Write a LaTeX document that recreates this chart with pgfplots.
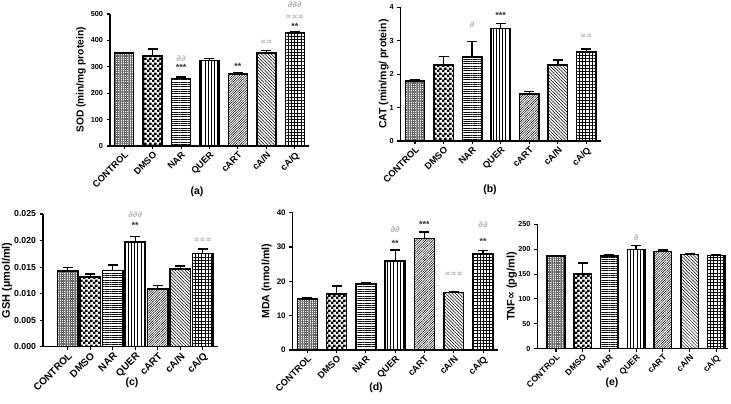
\documentclass[border=0pt]{standalone}
\usepackage{fontspec}
\setmainfont{Liberation Sans}
\newfontfamily\symfont{DejaVu Sans}
\usepackage{pgfplots}
\pgfplotsset{compat=1.18}
\usetikzlibrary{patterns,patterns.meta}

\pgfdeclarepatternformonly{mychecker}{\pgfqpoint{0pt}{0pt}}{\pgfqpoint{4.6pt}{4.6pt}}{\pgfqpoint{4.6pt}{4.6pt}}{%
 \pgfpathrectangle{\pgfqpoint{0pt}{0pt}}{\pgfqpoint{2.5pt}{2.5pt}}%
 \pgfpathrectangle{\pgfqpoint{2.3pt}{2.3pt}}{\pgfqpoint{2.5pt}{2.5pt}}%
 \pgfusepath{fill}}

\newcommand\fs[1]{\fontsize{#1}{#1}\selectfont\bfseries}

\pgfplotsset{
 pC/.style={pattern={Hatch[angle=0,distance=1.8pt,line width=0.45pt]}, pattern color=black!60},
 pD/.style={pattern=mychecker},
 pN/.style={pattern={Lines[angle=0,distance=2.3pt,line width=0.55pt]}},
 pQ/.style={pattern={Lines[angle=90,distance=3.2pt,line width=0.5pt]}},
 pA/.style={pattern={Lines[angle=45,distance=1.7pt,line width=0.45pt]}},
 pAN/.style={pattern={Lines[angle=-45,distance=2.3pt,line width=0.5pt]}},
 pAQ/.style={pattern={Hatch[angle=0,distance=3.2pt,line width=0.5pt]}},
 common/.style={
  scale only axis, anchor=south west, ybar, clip=false,
  axis x line=bottom, axis y line=left, axis line style={-, line width=1.3pt},
  tick align=outside, major tick length=3.5pt, tick style={line width=1.1pt, black},
  xtick={0,...,6}, xticklabels={CONTROL,DMSO,NAR,QUER,cART,cA/N,cA/Q},
  xticklabel style={rotate=45, anchor=north east, inner sep=1pt},
  /pgf/number format/assume math mode=true,
  scaled y ticks=false,
  enlargelimits=false,
 },
 fonts/.style n args={4}{
  xticklabel style={font=\fs{#1}},
  yticklabel style={font=\fs{#2}},
  ylabel style={font=\fs{#3}, at={(axis description cs:#4,0.5)}, anchor=center},
 },
}

\newcommand\onebar[4]{\addplot[#1, draw=black, line width=1.5pt, bar shift=0pt,
  error bars/.cd, y dir=plus, y explicit,
  error bar style={line width=1.4pt, solid},
  error mark options={rotate=90, line width=1.4pt, mark size=5pt}]
  coordinates {(#2,#3) +- (0,#4)};}
\newcommand\ann[3]{\node[font=\fs{9}, inner sep=0pt, text=black!80] at (axis cs:#1,#2) {#3};}
\newcommand\dd[1]{{\color{gray!60}\fontsize{8.5}{9}\selectfont\symfont\itshape #1}}

\begin{document}
\begin{tikzpicture}
\useasboundingbox (0,0) rectangle (731pt,404pt);

% (a) SOD
\begin{axis}[common, fonts={9.3}{7.3}{10.2}{-0.146}, at={(110pt,258pt)}, width=199pt, height=132pt,
  xmin=-0.5, xmax=6.5, ymin=0, ymax=500, ytick={0,100,200,300,400,500},
  bar width=0.67, ylabel={SOD (min/mg protein)}]
\onebar{pC}{0}{352}{3}
\onebar{pD}{1}{340}{27}
\onebar{pN}{2}{256}{5}
\onebar{pQ}{3}{323}{8}
\onebar{pA}{4}{272}{6}
\onebar{pAN}{5}{352}{9}
\onebar{pAQ}{6}{430}{3}
\ann{2}{332}{\dd{∂∂}}
\ann{2}{296}{***}
\ann{4}{303}{**}
\ann{5}{391}{\dd{∝∝}}
\ann{6}{534}{\dd{∂∂∂}}
\ann{6}{487}{\dd{∝∝∝}}
\ann{6}{454}{**}
\end{axis}

% (b) CAT
\begin{axis}[common, fonts={9.3}{7.3}{10.5}{-0.085}, at={(400.7pt,263pt)}, width=200pt, height=133.7pt,
  xmin=-0.5, xmax=6.5, ymin=0, ymax=4, ytick={0,1,2,3,4},
  bar width=0.68, ylabel={CAT (min/mg/ protein)}]
\onebar{pC}{0}{1.80}{0.03}
\onebar{pD}{1}{2.27}{0.25}
\onebar{pN}{2}{2.51}{0.47}
\onebar{pQ}{3}{3.37}{0.15}
\onebar{pA}{4}{1.40}{0.08}
\onebar{pAN}{5}{2.28}{0.14}
\onebar{pAQ}{6}{2.67}{0.08}
\ann{2}{3.47}{\dd{∂}}
\ann{3}{3.76}{***}
\ann{6}{3.14}{\dd{∝∝}}
\end{axis}

% (c) GSH
\begin{axis}[common, fonts={10}{8.7}{11}{-0.205}, at={(43pt,57.3pt)}, width=175.5pt, height=132.7pt,
  xmin=-1.1, xmax=6.7, ymin=0, ymax=0.025, ytick={0,0.005,0.010,0.015,0.020,0.025},
  yticklabel style={/pgf/number format/.cd, fixed, fixed zerofill, precision=3},
  bar width=0.93, ylabel={GSH (µmol/ml)}]
\onebar{pC}{0}{0.0143}{0.0006}
\onebar{pD}{1}{0.0131}{0.0006}
\onebar{pN}{2}{0.0144}{0.0010}
\onebar{pQ}{3}{0.0197}{0.0011}
\onebar{pA}{4}{0.0109}{0.0006}
\onebar{pAN}{5}{0.0146}{0.0006}
\onebar{pAQ}{6}{0.0176}{0.0008}
\ann{3}{0.0248}{\dd{∂∂∂}}
\ann{3}{0.0228}{**}
\ann{6}{0.0201}{\dd{∝∝∝}}
\end{axis}

% (d) MDA
\begin{axis}[common, fonts={9.3}{8}{10.6}{-0.127}, at={(292.7pt,54pt)}, width=205pt, height=137.3pt,
  xmin=-0.5, xmax=6.5, ymin=0, ymax=40, ytick={0,10,20,30,40},
  bar width=0.68, ylabel={MDA (nmol/ml)}]
\onebar{pC}{0}{14.9}{0.2}
\onebar{pD}{1}{16.3}{2.3}
\onebar{pN}{2}{19.2}{0.5}
\onebar{pQ}{3}{25.9}{3.2}
\onebar{pA}{4}{32.5}{1.9}
\onebar{pAN}{5}{16.7}{0.4}
\onebar{pAQ}{6}{27.9}{1.1}
\ann{3}{35.0}{\dd{∂∂}}
\ann{3}{31.2}{**}
\ann{4}{36.5}{***}
\ann{5}{21.9}{\dd{∝∝∝}}
\ann{6}{36.6}{\dd{∂∂}}
\ann{6}{31.7}{**}
\end{axis}

% (e) TNF
\begin{axis}[common, fonts={8.6}{7.2}{11}{-0.134}, at={(537.3pt,55.3pt)}, width=191pt, height=124.4pt,
  xmin=-0.7, xmax=6.45, ymin=0, ymax=250, ytick={0,50,100,150,200,250},
  bar width=0.66, ylabel={TNF{\symfont ∝} (pg/ml)}]
\onebar{pC}{0}{186}{1.5}
\onebar{pD}{1}{150}{22}
\onebar{pN}{2}{186}{3}
\onebar{pQ}{3}{199}{8}
\onebar{pA}{4}{195}{3}
\onebar{pAN}{5}{189}{1}
\onebar{pAQ}{6}{187}{1}
\ann{3}{223}{\dd{∂}}
\end{axis}

\node[font=\fs{10.5}] at (197pt,212pt) {(a)};
\node[font=\fs{10.5}] at (490pt,214pt) {(b)};
\node[font=\fs{10.5}] at (132pt,21.7pt) {(c)};
\node[font=\fs{10.5}] at (376pt,16.7pt) {(d)};
\node[font=\fs{10.5}] at (612pt,21.3pt) {(e)};
\end{tikzpicture}
\end{document}
